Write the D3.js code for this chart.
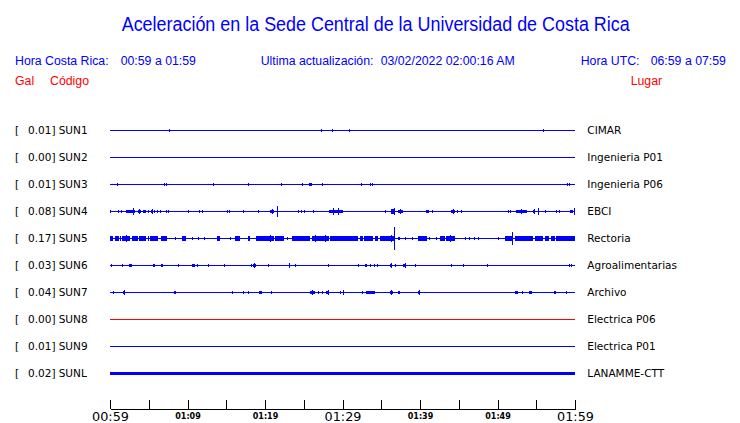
<!DOCTYPE html>
<html>
<head>
<meta charset="utf-8">
<script src="https://cdn.jsdelivr.net/npm/d3@7"></script>
<style>
  html, body { margin: 0; padding: 0; background: #ffffff; }
  svg { display: block; }
</style>
</head>
<body>
<script>
// ---------------- DATA ----------------
const titleText = "Aceleración en la Sede Central de la Universidad de Costa Rica";
const localTimeRange = "00:59 a 01:59";
const utcTimeRange = "06:59 a 07:59";
const lastUpdate = "03/02/2022 02:00:16 AM";

const stationCodes = ["SUN1", "SUN2", "SUN3", "SUN4", "SUN5", "SUN6", "SUN7", "SUN8", "SUN9", "SUNL"];
const peakGal = [0.01, 0.00, 0.01, 0.08, 0.17, 0.03, 0.04, 0.00, 0.01, 0.02];
const places = ["CIMAR", "Ingenieria P01", "Ingenieria P06", "EBCI", "Rectoria", "Agroalimentarias",
                "Archivo", "Electrica P06", "Electrica P01", "LANAMME-CTT"];

// minutes after 00:59 local time
const tickMinutes = [0, 5, 10, 15, 20, 25, 30, 35, 40, 45, 50, 55, 60];
const labelMinutes = [0, 10, 20, 30, 40, 50, 60];
const tickLabels = ["00:59", "01:09", "01:19", "01:29", "01:39", "01:49", "01:59"];
const majorLabels = ["00:59", "01:29", "01:59"];

// acceleration events: [start minute, end minute, amplitude in Gal]
const sun1Events = [[7.65, 7.65, 0.02], [27.2, 27.2, 0.012], [28.7, 28.7, 0.02], [30.9, 30.9, 0.02], [55.9, 55.9, 0.02]];
const sun2Events = [];
const sun3Events = [[0.95, 0.95, 0.015], [6.97, 6.97, 0.02], [7.23, 7.23, 0.02], [13.3, 13.3, 0.015], [17.8, 17.8, 0.02],
  [22.0, 22.0, 0.02], [24.8, 24.8, 0.02], [25.7, 26.0, 0.02], [27.4, 27.4, 0.015], [32.4, 32.4, 0.015],
  [33.5, 33.5, 0.015], [33.8, 33.8, 0.015], [59.0, 59.0, 0.02], [59.2, 59.2, 0.02]];
const sun4Events = [[0, 0, 0.02], [1.07, 1.07, 0.02], [1.4, 1.4, 0.02], [2.06, 3.2, 0.027], [2.97, 2.97, 0.05],
  [3.65, 3.96, 0.027], [3.8, 3.8, 0.04], [4.3, 4.6, 0.027], [4.95, 4.95, 0.02], [5.25, 5.5, 0.027], [5.4, 5.4, 0.035],
  [5.7, 5.7, 0.02], [6.0, 6.0, 0.02], [6.4, 6.4, 0.02], [7.2, 7.2, 0.02], [7.5, 7.5, 0.02], [10.0, 10.0, 0.02],
  [11.5, 11.5, 0.015], [11.9, 11.9, 0.02], [15.1, 15.1, 0.02], [15.4, 15.4, 0.015], [17.1, 17.1, 0.02],
  [19.1, 19.1, 0.02], [20.6, 21.1, 0.027], [20.85, 20.85, 0.04], [21.6, 21.6, 0.077], [24.3, 24.3, 0.02],
  [24.6, 24.6, 0.02], [25.0, 25.0, 0.02], [26.2, 26.3, 0.027], [28.3, 30.0, 0.027], [28.8, 28.8, 0.045],
  [29.4, 29.4, 0.045], [35.5, 35.5, 0.015], [36.3, 36.8, 0.03], [36.6, 36.6, 0.058], [37.1, 37.8, 0.027],
  [37.4, 37.4, 0.04], [40.8, 41.2, 0.027], [41.5, 41.5, 0.02], [44.0, 44.5, 0.027], [44.3, 44.3, 0.035],
  [44.8, 44.8, 0.02], [45.3, 45.3, 0.015], [51.3, 51.3, 0.02], [51.6, 51.6, 0.02], [52.4, 53.8, 0.027],
  [53.0, 53.0, 0.035], [54.6, 54.9, 0.027], [54.75, 54.75, 0.04], [55.2, 55.2, 0.05], [56.1, 56.1, 0.02],
  [57.6, 57.6, 0.02], [57.9, 57.9, 0.02], [59.4, 59.7, 0.027], [59.9, 59.9, 0.05]];
const sun5Events = [[0, 0.4, 0.03], [0.65, 1.15, 0.03], [1.3, 1.3, 0.035], [1.6, 2.6, 0.03], [2.0, 2.0, 0.058],
  [2.8, 3.65, 0.03], [3.0, 3.0, 0.04], [3.4, 3.4, 0.04], [3.8, 4.7, 0.03], [4.95, 4.95, 0.03], [5.2, 6.2, 0.03],
  [6.0, 6.0, 0.04], [6.6, 7.4, 0.03], [8.4, 8.4, 0.02], [9.25, 9.8, 0.03], [10.6, 10.6, 0.02], [11.4, 11.4, 0.02],
  [12.1, 12.1, 0.02], [13.8, 14.2, 0.03], [15.5, 15.5, 0.02], [16.1, 16.8, 0.03], [17.8, 18.1, 0.03],
  [18.8, 21.1, 0.03], [20.2, 20.2, 0.04], [20.6, 20.6, 0.058], [21.3, 22.4, 0.03], [22.9, 22.9, 0.02],
  [23.5, 25.8, 0.03], [26.0, 28.2, 0.03], [26.5, 26.5, 0.05], [27.8, 27.8, 0.05], [28.4, 32.0, 0.03],
  [32.3, 32.6, 0.03], [32.8, 33.9, 0.03], [34.2, 34.6, 0.03], [34.8, 36.8, 0.03], [36.3, 36.3, 0.05],
  [36.6, 36.6, 0.17], [37.1, 37.1, 0.02], [37.3, 37.3, 0.02], [38.0, 38.0, 0.02], [39.0, 39.0, 0.02],
  [39.8, 40.9, 0.03], [41.2, 41.2, 0.02], [42.1, 42.1, 0.02], [42.6, 43.2, 0.03], [43.4, 44.5, 0.03],
  [43.9, 43.9, 0.045], [45.8, 45.8, 0.02], [46.3, 46.3, 0.02], [47.0, 47.0, 0.02], [47.5, 47.5, 0.015],
  [50.1, 50.1, 0.02], [51.0, 52.0, 0.03], [51.5, 51.5, 0.04], [51.9, 51.9, 0.09], [52.3, 54.6, 0.03],
  [54.8, 55.9, 0.03], [56.1, 56.6, 0.03], [56.9, 57.4, 0.03], [57.6, 60, 0.03]];
const sun6Events = [[0.1, 0.2, 0.02], [1.6, 1.6, 0.01], [2.45, 2.8, 0.02], [5.5, 5.8, 0.02], [6.6, 6.6, 0.015],
  [6.75, 6.75, 0.015], [8.8, 8.8, 0.02], [10.6, 11.0, 0.02], [11.2, 11.2, 0.02], [12.6, 12.6, 0.02],
  [14.7, 14.7, 0.02], [18.2, 18.2, 0.015], [18.4, 18.8, 0.02], [18.6, 18.6, 0.035], [20.4, 20.4, 0.015],
  [23.1, 23.1, 0.03], [23.9, 23.9, 0.015], [28.1, 28.1, 0.02], [32.0, 32.0, 0.015], [32.9, 33.1, 0.02],
  [33.5, 33.7, 0.02], [34.1, 34.1, 0.015], [34.5, 34.5, 0.01], [36.1, 36.3, 0.02], [36.2, 36.2, 0.03],
  [36.8, 36.8, 0.015], [37.8, 38.2, 0.02], [38.0, 38.0, 0.03], [39.4, 39.4, 0.015], [44.0, 44.0, 0.015],
  [45.5, 45.5, 0.015], [48.6, 48.6, 0.015], [59.2, 59.2, 0.015], [59.5, 59.5, 0.015]];
const sun7Events = [[0.4, 0.4, 0.015], [1.7, 1.9, 0.022], [1.8, 1.8, 0.035], [8.2, 8.5, 0.022], [15.7, 15.7, 0.02],
  [17.1, 17.1, 0.02], [17.8, 17.8, 0.02], [19.2, 19.65, 0.022], [20.8, 20.8, 0.015], [25.8, 26.4, 0.022],
  [26.1, 26.1, 0.035], [26.9, 26.9, 0.015], [27.3, 27.3, 0.015], [27.9, 28.3, 0.022], [28.1, 28.1, 0.035],
  [29.7, 29.7, 0.015], [30.0, 30.0, 0.03], [32.5, 32.5, 0.015], [33.0, 34.2, 0.02], [36.1, 36.5, 0.02],
  [36.3, 36.3, 0.03], [37.1, 37.4, 0.02], [39.7, 40.0, 0.02], [39.85, 39.85, 0.03], [52.3, 52.6, 0.02],
  [53.2, 53.2, 0.015], [54.0, 54.4, 0.022], [57.3, 57.5, 0.02], [58.8, 58.8, 0.01]];
const sun8Events = [];
const sun9Events = [];
const sunlEvents = [[0, 60, 0.02]];
const stationEvents = [sun1Events, sun2Events, sun3Events, sun4Events, sun5Events,
                       sun6Events, sun7Events, sun8Events, sun9Events, sunlEvents];

// ---------------- DRAWING ----------------
const W = 740, H = 423;
const BLUE = "#0000ff", RED = "#ff0000";
const SANS = "'Liberation Sans', Arial, Helvetica, sans-serif";
const DEJAVU = "'DejaVu Sans', sans-serif";

const svg = d3.select("body").append("svg").attr("width", W).attr("height", H);

// header
svg.append("text").attr("x", 121.7).attr("y", 30.5)
  .attr("textLength", 508).attr("lengthAdjust", "spacingAndGlyphs")
  .style("font-family", SANS).style("font-size", "20px").attr("fill", BLUE)
  .text(titleText);

const hdr = [
  {x: 15, text: "Hora Costa Rica:", color: BLUE, y: 65},
  {x: 120.7, text: localTimeRange, color: BLUE, y: 65},
  {x: 260.7, text: "Ultima actualización:", color: BLUE, y: 65},
  {x: 380.7, text: lastUpdate, color: BLUE, y: 65},
  {x: 580.7, text: "Hora UTC:", color: BLUE, y: 65},
  {x: 650.7, text: utcTimeRange, color: BLUE, y: 65},
  {x: 15, text: "Gal", color: RED, y: 85},
  {x: 50, text: "Código", color: RED, y: 85},
  {x: 630.7, text: "Lugar", color: RED, y: 85}
];
svg.selectAll("text.hdr").data(hdr).enter().append("text").attr("class", "hdr")
  .attr("x", d => d.x).attr("y", d => d.y)
  .style("font-family", SANS).style("font-size", "12.3px").attr("fill", d => d.color)
  .text(d => d.text);

// scales
const x = d3.scaleLinear().domain([0, 60]).range([110, 575]);
const y = d3.scalePoint().domain(stationCodes).range([130, 373]);
const amp = d3.scaleLinear().domain([0, 0.17]).range([0, 11.7]);

const rows = svg.selectAll("g.row").data(stationCodes.map((c, i) => ({
  code: c, peak: peakGal[i], place: places[i], events: stationEvents[i]
}))).enter().append("g").attr("class", "row")
  .attr("transform", d => `translate(0,${y(d.code)})`);

rows.append("text").attr("x", 15).attr("y", 4.2)
  .style("font-family", DEJAVU).style("font-size", "10.5px").attr("fill", "#000").text("[");
rows.append("text").attr("x", 55.5).attr("y", 4.2).attr("text-anchor", "end")
  .style("font-family", DEJAVU).style("font-size", "10.5px").attr("fill", "#000")
  .text(d => d3.format(".2f")(d.peak) + "]");
rows.append("text").attr("x", 58.7).attr("y", 4.2)
  .style("font-family", DEJAVU).style("font-size", "10.5px").attr("fill", "#000").text(d => d.code);
rows.append("text").attr("x", 587.3).attr("y", 4.2)
  .style("font-family", DEJAVU).style("font-size", "10.5px").attr("fill", "#000").text(d => d.place);

const colorOf = d => d.code === "SUN8" ? RED : BLUE;

rows.append("rect")
  .attr("x", x(0)).attr("y", 0).attr("width", x(60) - x(0)).attr("height", 1)
  .attr("fill", colorOf).attr("shape-rendering", "crispEdges");

rows.each(function(d) {
  const g = d3.select(this);
  g.selectAll("rect.ev").data(d.events).enter().append("rect").attr("class", "ev")
    .attr("x", e => x(e[0]))
    .attr("width", e => Math.max(1, x(e[1]) - x(e[0])))
    .attr("y", e => 0.5 - Math.max(1.5, amp(e[2])))
    .attr("height", e => 2 * Math.max(1.5, amp(e[2])))
    .attr("fill", colorOf(d)).attr("shape-rendering", "crispEdges");
});

// time axis
const axis = d3.axisBottom(x).tickValues(tickMinutes).tickSize(-9).tickSizeOuter(0)
  .tickFormat(m => { const i = labelMinutes.indexOf(m); return i >= 0 ? tickLabels[i] : ""; });
const ax = svg.append("g").attr("transform", "translate(0,409)").call(axis);
ax.select(".domain").attr("stroke", "#000").attr("shape-rendering", "crispEdges");
ax.selectAll(".tick line").attr("stroke", "#000").attr("shape-rendering", "crispEdges");
ax.selectAll(".tick text").attr("fill", "#000").attr("dy", null)
  .style("font-family", DEJAVU)
  .each(function() {
    const t = d3.select(this), s = t.text();
    if (majorLabels.includes(s)) {
      t.attr("y", 11.6).style("font-size", "12.8px").style("font-weight", "normal");
    } else {
      t.attr("y", 9.8).style("font-size", "8px").style("font-weight", "bold");
    }
  });
</script>
</body>
</html>
